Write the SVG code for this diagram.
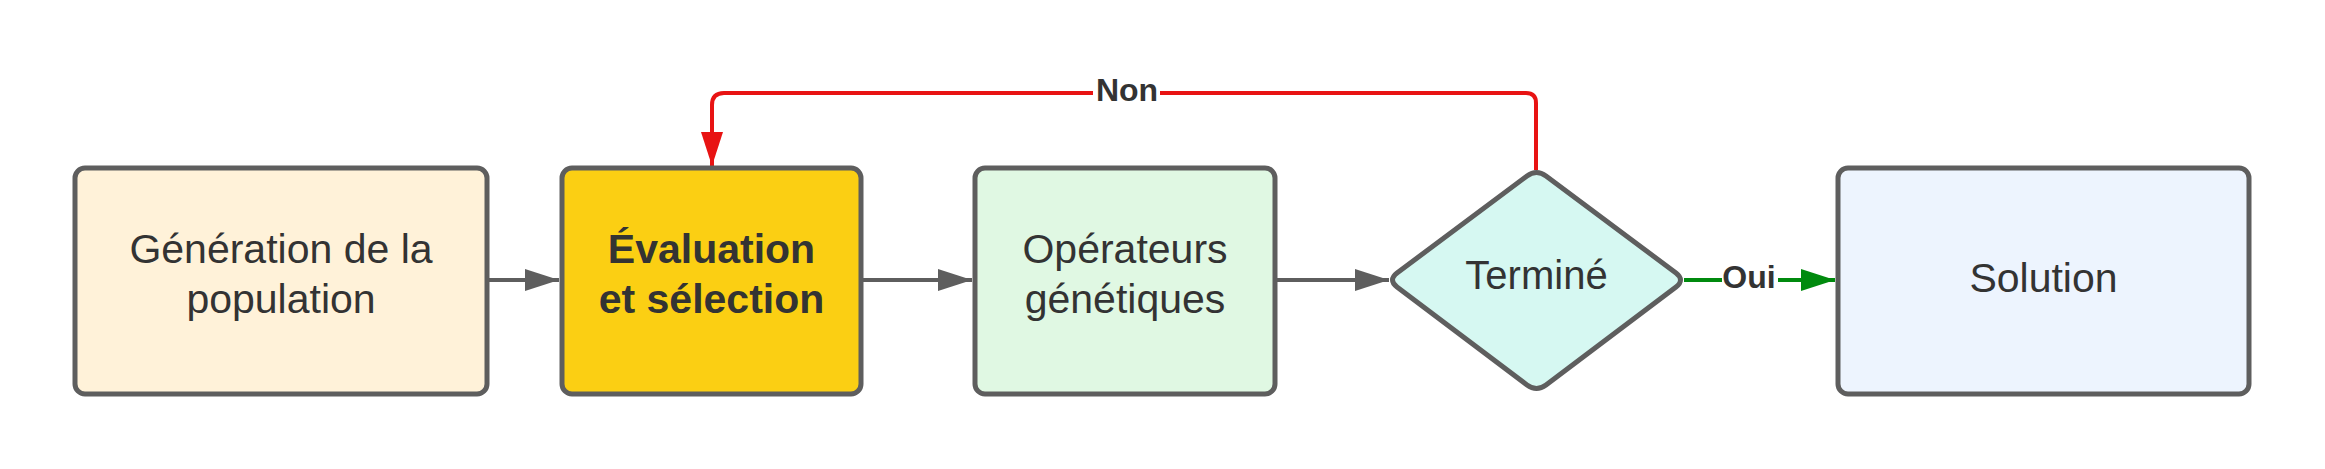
<svg xmlns="http://www.w3.org/2000/svg" width="2325" height="469" viewBox="0 0 2325 469">
<style>
.node{stroke:#5e5e5e;stroke-width:5}
.t{font-family:"Liberation Sans",Arial,sans-serif;font-size:41px;fill:#333333;text-anchor:middle}
.b{font-weight:bold}
.lbl{font-family:"Liberation Sans",Arial,sans-serif;font-size:32px;font-weight:bold;fill:#333333;text-anchor:middle}
.c{fill:none;stroke-width:4}
</style>
<defs>
<marker id="ag" markerUnits="userSpaceOnUse" markerWidth="36" markerHeight="24" refX="34" refY="11" orient="auto"><path d="M0,0 L34,11 L0,22 z" fill="#5e5e5e"/></marker>
<marker id="ar" markerUnits="userSpaceOnUse" markerWidth="36" markerHeight="24" refX="34" refY="11" orient="auto"><path d="M0,0 L34,11 L0,22 z" fill="#e81313"/></marker>
<marker id="agr" markerUnits="userSpaceOnUse" markerWidth="36" markerHeight="24" refX="34" refY="11" orient="auto"><path d="M0,0 L34,11 L0,22 z" fill="#008a0e"/></marker>
</defs>
<rect width="2325" height="469" fill="#ffffff"/>
<g id="connectors">
<path class="c" stroke="#5e5e5e" d="M489,280 H559" marker-end="url(#ag)"/>
<path class="c" stroke="#5e5e5e" d="M863,280 H972" marker-end="url(#ag)"/>
<path class="c" stroke="#5e5e5e" d="M1277,280 H1389" marker-end="url(#ag)"/>
<path class="c" stroke="#e81313" d="M1536,170 V103 Q1536,93 1526,93 H724 Q712,93 712,105 V166" marker-end="url(#ar)"/>
<path class="c" stroke="#008a0e" d="M1684,280 H1835" marker-end="url(#agr)"/>
<rect x="1093" y="72" width="67" height="38" fill="#ffffff"/>
<text class="lbl" x="1127" y="101">Non</text>
<rect x="1722" y="259" width="56" height="38" fill="#ffffff"/>
<text class="lbl" x="1749" y="288">Oui</text>
</g>
<g id="node-termine">
<path class="node" fill="#d6f8f2" stroke-linejoin="round" d="M1397,273 L1527,176 Q1536.5,169 1546,176 L1676,273 Q1685,280 1676,287 L1546,385 Q1536.5,392 1527,385 L1397,287 Q1388,280 1397,273 Z"/>
<text class="t" style="font-size:40px" x="1536.5" y="289">Terminé</text>
</g>
<g id="node-generation">
<rect class="node" x="75" y="168" width="412" height="226" rx="10" fill="#fff2d9"/>
<text class="t" x="281" y="263">Génération de la</text>
<text class="t" x="281" y="313">population</text>
</g>
<g id="node-evaluation">
<rect class="node" x="562" y="168" width="299" height="226" rx="10" fill="#fbcf13"/>
<text class="t b" x="711.5" y="263">Évaluation</text>
<text class="t b" x="711.5" y="313">et sélection</text>
</g>
<g id="node-operateurs">
<rect class="node" x="975" y="168" width="300" height="226" rx="10" fill="#e0f8e3"/>
<text class="t" x="1125" y="263">Opérateurs</text>
<text class="t" x="1125" y="313">génétiques</text>
</g>
<g id="node-solution">
<rect class="node" x="1838" y="168" width="411" height="226" rx="10" fill="#edf4fe"/>
<text class="t" x="2043.5" y="292">Solution</text>
</g>
</svg>
